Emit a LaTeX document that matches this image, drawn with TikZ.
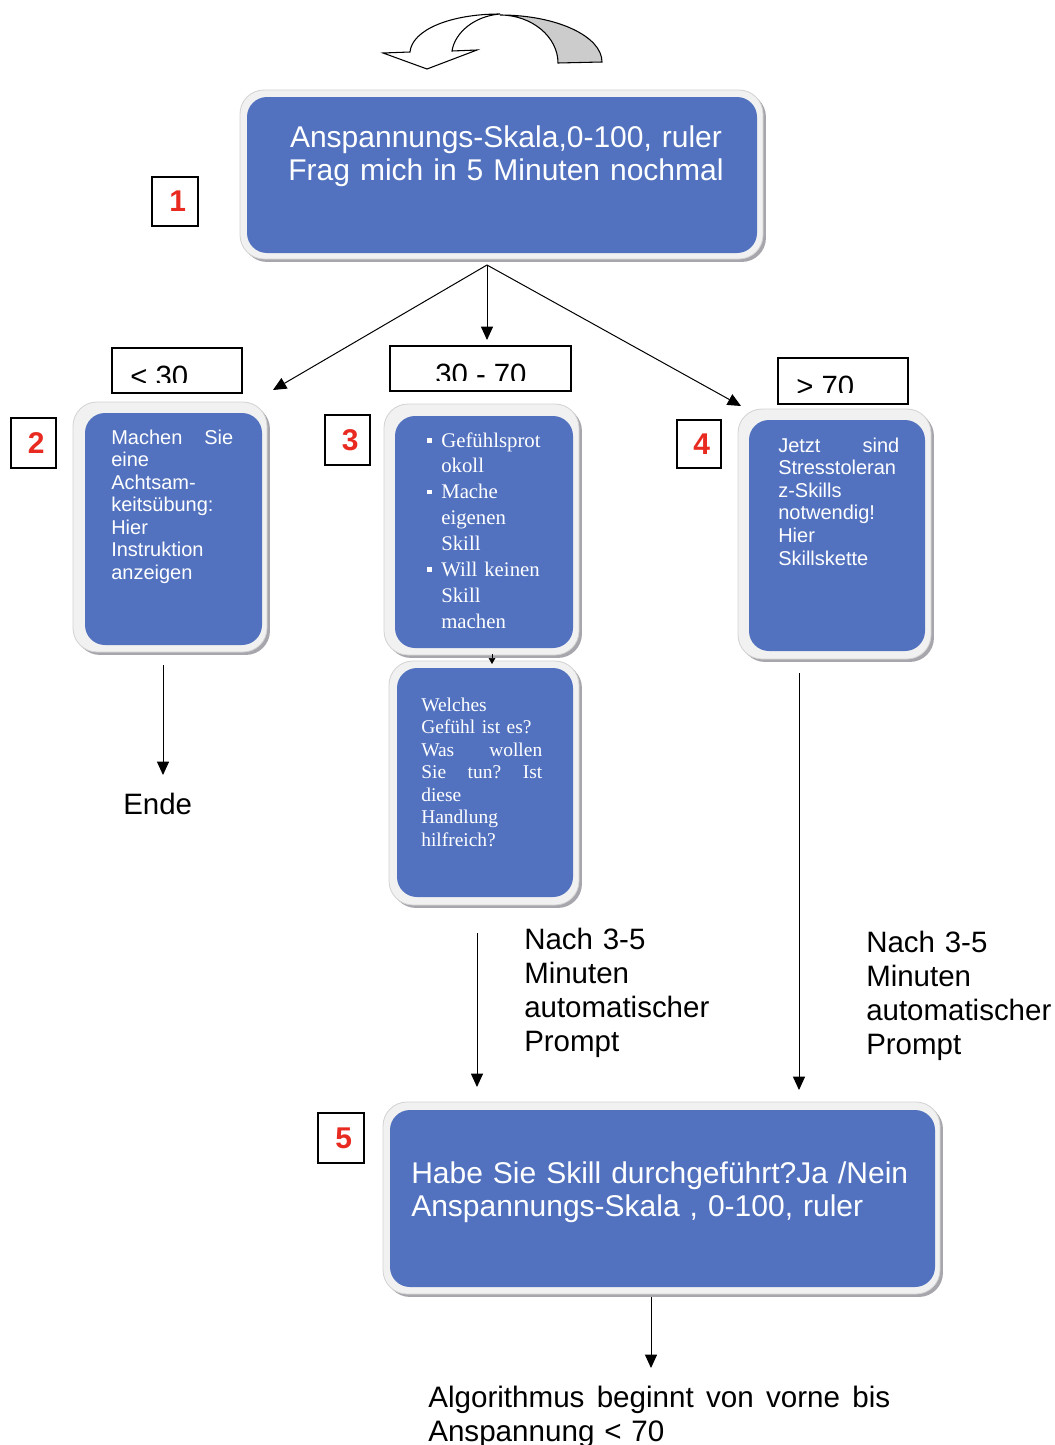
\documentclass[tikz,border=0pt]{standalone}
\usepackage{fontspec}
\setmainfont{Liberation Sans}
\newfontfamily\tmsfont{Liberation Serif}
\usetikzlibrary{arrows.meta,shadows}
\definecolor{boxblue}{RGB}{82,114,191}
\definecolor{rimfill}{RGB}{241,241,241}
\definecolor{rimedge}{RGB}{210,210,210}
\definecolor{shadowgray}{RGB}{150,150,158}
\definecolor{numred}{RGB}{232,42,32}
\newcommand\sqbul{\makebox[10.5pt][l]{\raisebox{3.2pt}{\rule{3.6pt}{3.6pt}}}}
\newcommand\sqind{\hspace*{10.5pt}}
\begin{document}
\begin{tikzpicture}[x=0.75pt,y=-0.75pt,
  bluebox/.style n args={4}{draw=rimedge, line width=0.6pt, fill=rimfill,
    rounded corners=18pt, inner sep=0pt,
    drop shadow={shadow xshift=2.2pt, shadow yshift=-2.2pt, fill=shadowgray, opacity=0.85},
    path picture={\fill[boxblue, rounded corners=15pt]
      ([shift={(#1,-#2)}]path picture bounding box.north west) rectangle
      ([shift={(-#3,#4)}]path picture bounding box.south east);}},
  numbox/.style={draw=black, line width=0.8pt, inner sep=0pt, text=numred,
    font=\fontsize{22.5}{24}\selectfont\bfseries},
  rangebox/.style={draw=black, line width=0.8pt, inner sep=0pt},
  rangetext/.style={inner sep=0pt, anchor=base west, font=\fontsize{22}{24}\selectfont},
  wtext/.style={inner sep=0pt, anchor=base west, align=left, text=white},
  btext/.style={inner sep=0pt, anchor=base west, align=left, text=black},
  arr/.style={-{Triangle[length=10pt,width=9pt]}, line width=0.75pt},
]
\useasboundingbox (0,0) rectangle (1055,1445);

% curved arrow at the top
\filldraw[fill=gray!40, draw=black, line width=0.8pt]
  (602,62) .. controls (602,36) and (556,15) .. (500,15)
  .. controls (532,15) and (558,37) .. (558,63) -- cycle;
\filldraw[fill=white, draw=black, line width=0.8pt]
  (500,14) .. controls (450,14) and (412,30) .. (410,52) -- (383,53) -- (427,69)
  -- (477,50) -- (452,51) .. controls (455,32) and (475,16) .. (500,14) -- cycle;

% box 1
\node[bluebox={5.25pt}{5.25pt}{4.5pt}{4.5pt}, minimum width=392.25pt, minimum height=126.75pt] (b1) at (501.5,174.5) {};
\node[inner sep=0pt, anchor=base, align=center, text width=370pt, text=white, font=\fontsize{22.5}{24.75}\selectfont] (t1) at (506,147)
  {Anspannungs-Skala,0-100, ruler\\Frag mich in 5 Minuten nochmal};
\node[numbox, minimum width=34.5pt, minimum height=36.75pt] (n1) at (175,201.5) {\kern4pt 1};

% branch arrows
\coordinate (split) at (487,265);
\coordinate (e2) at (273,390);
\coordinate (e3) at (487,340);
\coordinate (e4) at (741,406);
\draw[arr] (split) -- (e2);
\draw[arr] (split) -- (e3);
\draw[arr] (split) -- (e4);

% range labels
\begin{scope}
  \clip (112,348) rectangle (242,382);
  \node[rangetext] (t30) at (130,386) {< 30};
\end{scope}
\node[rangebox, minimum width=97.5pt, minimum height=33.75pt] (r30) at (177,370.5) {};
\begin{scope}
  \clip (390,346) rectangle (571,380);
  \node[rangetext] (t3070) at (435,384) {30 - 70};
\end{scope}
\node[rangebox, minimum width=135.75pt, minimum height=33.75pt] (r3070) at (480.5,368.5) {};
\begin{scope}
  \clip (778,358) rectangle (908,392);
  \node[rangetext] (t70) at (796,396) {> 70};
\end{scope}
\node[rangebox, minimum width=97.5pt, minimum height=34.5pt] (r70) at (843,381) {};

% box 2
\node[bluebox={9pt}{8.25pt}{3.75pt}{5.25pt}, minimum width=145.5pt, minimum height=187.5pt] (b2) at (170,527) {};
\node[wtext, text width=91.5pt, font=\fontsize{15}{16.9}\selectfont] (t2) at (111,444)
  {Machen\hfill Sie\\eine\\Achtsam-\\keitsübung:\\Hier\\Instruktion\\anzeigen};
\node[numbox, minimum width=33.75pt, minimum height=37.5pt] (n2) at (33.5,443) {\kern4pt 2};

% box 3
\node[bluebox={8.25pt}{9pt}{4.5pt}{5.25pt}, minimum width=146.25pt, minimum height=188.25pt] (b3) at (481.5,529.5) {};
\node[wtext, text width=92pt, font=\tmsfont\fontsize{15.6}{19.4}\selectfont] (t3) at (427,447)
  {\sqbul Gefühlsprot\\\sqind okoll\\\sqbul Mache\\\sqind eigenen\\\sqind Skill\\\sqbul Will keinen\\\sqind Skill\\\sqind machen};
\node[numbox, minimum width=33.75pt, minimum height=37.5pt] (n3) at (347.5,440) {\kern4pt 3};

% box 3b
\node[bluebox={6pt}{5.25pt}{4.5pt}{6pt}, minimum width=142.5pt, minimum height=183pt] (b3b) at (484,783) {};
\node[wtext, text width=90.75pt, font=\tmsfont\fontsize{14.6}{16.9}\selectfont] (t3b) at (421,711)
  {Welches\\Gefühl ist es?\\Was\hfill wollen\\Sie\hfill tun?\hfill Ist\\diese\\Handlung\\hilfreich?};
\coordinate (s3a) at (492,654);
\coordinate (s3b) at (492,664);
\draw[-{Triangle[length=4.5pt,width=5pt]}, line width=0.5pt] (s3a) -- (s3b);

% box 4
\node[bluebox={8.25pt}{8.25pt}{4.5pt}{6pt}, minimum width=144.75pt, minimum height=187.5pt] (b4) at (834.5,534) {};
\node[wtext, text width=90.75pt, font=\fontsize{15}{16.95}\selectfont] (t4) at (778,452)
  {Jetzt\hfill sind\\Stresstoleran\\z-Skills\\notwendig!\\Hier\\Skillskette};
\node[numbox, minimum width=33pt, minimum height=36pt] (n4) at (699,444) {\kern4pt 4};

% Ende
\coordinate (a2s) at (163,665);
\coordinate (a2e) at (163,775);
\draw[arr] (a2s) -- (a2e);
\node[btext, font=\fontsize{22.1}{25.7}\selectfont] (ende) at (123,814) {Ende};

% arrows to box 5
\coordinate (a3s) at (477,933);
\coordinate (a3e) at (477,1087);
\draw[arr] (a3s) -- (a3e);
\coordinate (a4s) at (799,673);
\coordinate (a4e) at (799,1090);
\draw[arr] (a4s) -- (a4e);
\node[btext, text width=140pt, font=\fontsize{22.1}{25.7}\selectfont] (nach1) at (524,949)
  {Nach 3-5\\Minuten\\automatischer\\Prompt};
\node[btext, text width=140pt, font=\fontsize{22.1}{25.7}\selectfont] (nach2) at (866,952)
  {Nach 3-5\\Minuten\\automatischer\\Prompt};

% box 5
\node[bluebox={5.25pt}{6pt}{3.75pt}{5.25pt}, minimum width=417.75pt, minimum height=144pt] (b5) at (661.5,1198) {};
\node[wtext, text width=390pt, font=\fontsize{22.5}{24.75}\selectfont] (t5) at (411,1183)
  {Habe Sie Skill durchgeführt?Ja /Nein\\Anspannungs-Skala , 0-100, ruler};
\node[numbox, minimum width=34.5pt, minimum height=37.5pt] (n5) at (341,1138) {\kern4pt 5};

% final arrow and text
\coordinate (a5s) at (651,1297);
\coordinate (a5e) at (651,1368);
\draw[arr] (a5s) -- (a5e);
\node[btext, text width=346.5pt, font=\fontsize{22.2}{25.5}\selectfont] (algo) at (428,1407)
  {Algorithmus\hfill beginnt\hfill von\hfill vorne\hfill bis\\Anspannung < 70};
\end{tikzpicture}
\end{document}
